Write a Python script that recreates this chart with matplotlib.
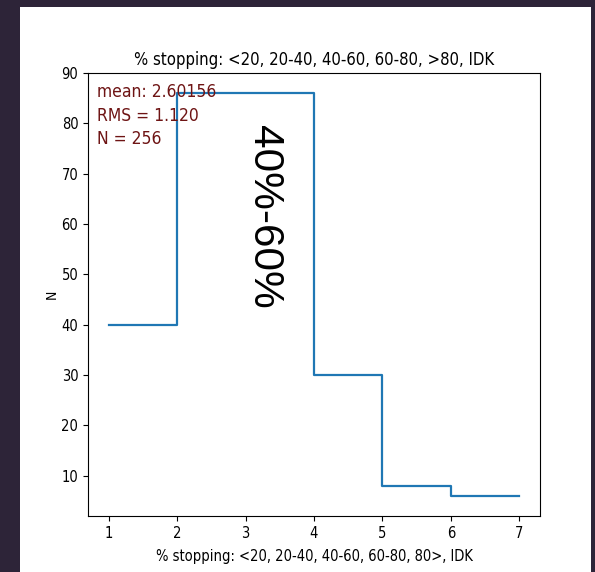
import matplotlib
matplotlib.use('Agg')

import matplotlib.pyplot as plt
from matplotlib.patches import Rectangle

# data: counts per answer bin (1..6), edges 1..7
edges = [1, 2, 3, 4, 5, 6, 7]
counts = [40, 86, 86, 30, 8, 6]
stats_lines = ["mean: 2.60156", "RMS = 1.120", "N = 256"]

plt.rcParams['font.family'] = ['DejaVu Sans']
plt.rcParams['font.stretch'] = 'condensed'

fig = plt.figure(figsize=(5.95, 5.72), dpi=100)
fig.patch.set_facecolor('#2d2438')
# white "page" inside dark frame
fig.patches.append(Rectangle((20 / 595, 0), 571 / 595, 565 / 572,
                             transform=fig.transFigure, facecolor='white',
                             edgecolor='none', zorder=-5))

ax = fig.add_axes([88 / 595, 1 - 516 / 572, 452 / 595, 443 / 572])

# step line (last value repeated so the line reaches the final edge)
ax.step(edges, counts + [counts[-1]], where='post', color='#1f77b4', lw=1.6)

ax.set_title("% stopping: <20, 20-40, 40-60, 60-80, >80, IDK", fontsize=12)
ax.set_xlabel("% stopping: <20, 20-40, 40-60, 60-80, 80>, IDK", fontsize=10.5,
              labelpad=6)
ax.set_ylabel("N", fontsize=10, labelpad=2)
ax.tick_params(labelsize=10.5)

ax.text(0.02, 0.977, "\n".join(stats_lines), transform=ax.transAxes,
        va='top', ha='left', color='#6e1414', fontsize=12.5, linespacing=1.38)

ax.text(3.27, 61.5, "40%-60%", rotation=-90, ha='center', va='center',
        fontsize=30.5, family='Liberation Sans', fontstretch='normal')

plt.savefig("out.png", dpi=100, facecolor=fig.get_facecolor())
print("saved out.png")
